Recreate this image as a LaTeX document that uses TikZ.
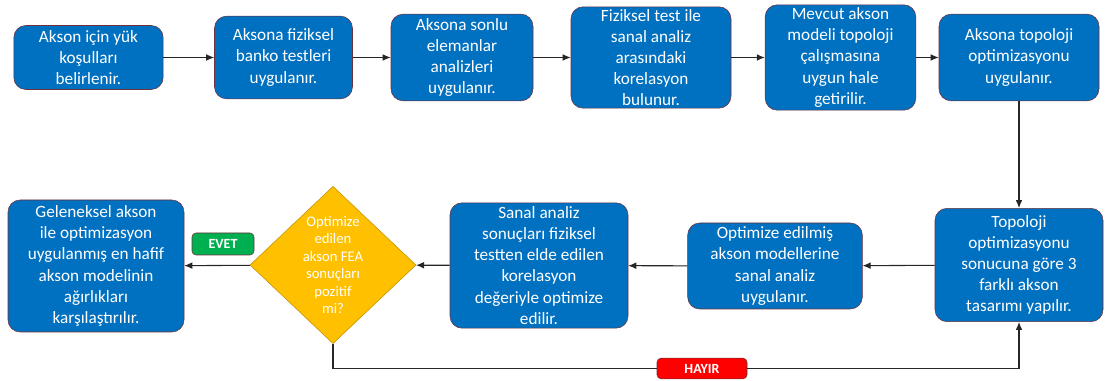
\documentclass[tikz,border=0pt]{standalone}
\usepackage{fontspec}
\setmainfont{Carlito}
\usepackage{tikz}
\usetikzlibrary{shapes.geometric, arrows.meta, positioning}
\definecolor{stepblue}{RGB}{0,112,192}
\definecolor{stepedge}{RGB}{110,48,58}
\definecolor{decgold}{RGB}{255,192,0}
\definecolor{decedge}{RGB}{191,144,0}
\definecolor{yesgreen}{RGB}{0,176,80}
\definecolor{nored}{RGB}{255,0,0}

\begin{document}
\begin{tikzpicture}[
    x=0.75pt, y=-0.75pt,
    stepbox/.style={rectangle, draw=stepedge, fill=stepblue, rounded corners=9pt, align=center, text=white, inner sep=1pt, font=\fontsize{12.9}{15.8}\selectfont},
    decision/.style={diamond, draw=decedge, fill=decgold, inner sep=0pt},
    decisiontext/.style={align=center, text=white, font=\fontsize{11}{13.1}\selectfont},
    answer/.style={rectangle, draw=stepedge, rounded corners=3pt, text=white, inner sep=0pt, font=\fontsize{10.5}{11}\selectfont\bfseries},
    arrow/.style={-{Latex[length=6pt,width=5pt]}, black!85, line width=0.8pt},
]
\useasboundingbox (0,0) rectangle (1115,381);

% Upper row - left to right
\node[stepbox, minimum width=112pt, minimum height=48pt] (loads) at (88.5,57.5) {Akson için yük\\koşulları\\belirlenir.};
\node[stepbox, minimum width=103.5pt, minimum height=62pt] (bench) at (283.5,57.5) {Aksona fiziksel\\banko testleri\\uygulanır.};
\node[stepbox, minimum width=106.5pt, minimum height=65pt] (fea) at (462,57.5) {Aksona sonlu\\elemanlar\\analizleri\\uygulanır.};
\node[stepbox, minimum width=120pt, minimum height=76pt] (correl) at (651,57.5) {Fiziksel test ile\\sanal analiz\\arasındaki\\korelasyon\\bulunur.};
\node[stepbox, minimum width=113pt, minimum height=79pt] (prep) at (840.5,57.5) {Mevcut akson\\modeli topoloji\\çalışmasına\\uygun hale\\getirilir.};
\node[stepbox, minimum width=120pt, minimum height=65pt] (topopt) at (1019,57.5) {Aksona topoloji\\optimizasyonu\\uygulanır.};

\draw[arrow] (loads) -- (bench);
\draw[arrow] (bench) -- (fea);
\draw[arrow] (fea) -- (correl);
\draw[arrow] (correl) -- (prep);
\draw[arrow] (prep) -- (topopt);

% Lower row - right to left
\node[stepbox, minimum width=126pt, minimum height=85pt] (designs) at (1019,265) {Topoloji\\optimizasyonu\\sonucuna göre 3\\farklı akson\\tasarımı yapılır.};
\node[stepbox, minimum width=131pt, minimum height=64.5pt] (virtual) at (775,266) {Optimize edilmiş\\akson modellerine\\sanal analiz\\uygulanır.};
\node[stepbox, minimum width=133.5pt, minimum height=94pt] (tune) at (539,265.5) {Sanal analiz\\sonuçları fiziksel\\testten elde edilen\\korelasyon\\değeriyle optimize\\edilir.};
\node[decision, minimum width=124.5pt, minimum height=118pt] (check) at (333,265) {};
\node[decisiontext] (checktext) at (check) {Optimize\\edilen\\akson FEA\\sonuçları\\pozitif\\mi?};
\node[stepbox, minimum width=132pt, minimum height=99pt] (compare) at (96,266) {Geleneksel akson\\ile optimizasyon\\uygulanmış en hafif\\akson modelinin\\ağırlıkları\\karşılaştırılır.};

% Answer labels
\node[answer, fill=yesgreen, minimum width=46.5pt, minimum height=16.5pt] (yes) at (223,244) {EVET};
\node[answer, fill=nored, minimum width=67.5pt, minimum height=15.5pt] (no) at (702,368.5) {HAYIR};

\draw[arrow] (topopt) -- (designs);
\draw[arrow] (designs) -- (virtual);
\draw[arrow] (virtual) -- (tune);
\draw[arrow] (tune) -- (check);
\draw[arrow] (check) -- (compare);
\draw[black!85, line width=0.8pt] (check.south) |- (no);
\draw[arrow] (no) -| (designs.south);

\end{tikzpicture}
\end{document}
